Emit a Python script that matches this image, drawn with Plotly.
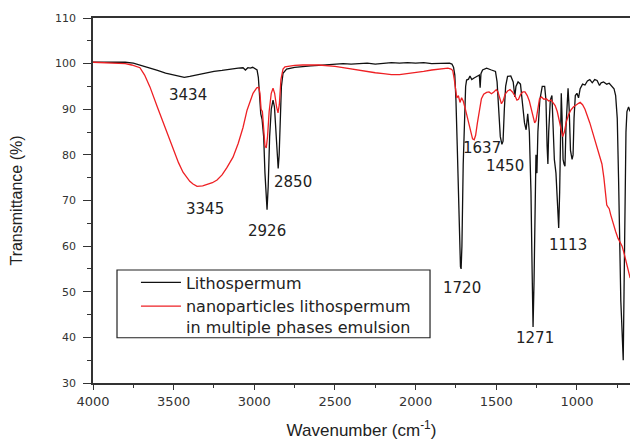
import plotly.graph_objects as go

# ---- data ----
black_wn = [4000, 3900, 3800, 3750, 3700, 3650, 3600, 3550, 3500, 3460, 3434, 3400, 3350, 3300, 3250,
            3200, 3150, 3100, 3070, 3055, 3040, 3025, 3010, 2995, 2983, 2975, 2968, 2960, 2952, 2942,
            2934, 2926, 2921, 2914, 2905, 2895, 2884, 2875, 2866, 2858, 2852, 2846, 2840, 2832, 2822,
            2800, 2750, 2700, 2650, 2600, 2550, 2500, 2450, 2400, 2350, 2300, 2250, 2200, 2150, 2100,
            2050, 2000, 1950, 1900, 1850, 1800, 1790, 1775, 1765, 1757, 1750, 1742, 1735, 1728, 1722,
            1718, 1713, 1705, 1697, 1690, 1684, 1672, 1663, 1652, 1640, 1620, 1605, 1600, 1595, 1585,
            1560, 1530, 1505, 1495, 1485, 1475, 1465, 1458, 1450, 1442, 1430, 1410, 1395, 1385, 1378,
            1365, 1350, 1338, 1325, 1315, 1305, 1295, 1285, 1278, 1272, 1266, 1260, 1254, 1248, 1242,
            1230, 1215, 1200, 1192, 1185, 1180, 1175, 1165, 1155, 1148, 1140, 1130, 1120, 1113, 1107,
            1102, 1097, 1092, 1086, 1080, 1074, 1068, 1060, 1055, 1048, 1040, 1030, 1024, 1018, 1010,
            1000, 990, 980, 965, 950, 935, 920, 905, 890, 875, 860, 850, 835, 815, 800,
            785, 770, 760, 750, 742, 735, 728, 722, 717, 713, 708, 702, 696, 690, 680,
            670]
black_t = [100.3, 100.3, 100.3, 100.1, 99.6, 99.0, 98.5, 97.9, 97.5, 97.2, 97.0, 97.2, 97.6, 97.9, 98.3,
           98.5, 98.8, 99.0, 99.1, 98.6, 99.1, 99.0, 99.2, 98.8, 98.6, 97.0, 93.0, 89.0, 87.8, 84.0,
           76.0, 69.0, 68.0, 73.0, 84.0, 90.0, 92.0, 90.5, 86.0, 80.0, 77.0, 80.0, 88.0, 95.0, 97.9,
           98.8, 99.2, 99.4, 99.5, 99.6, 99.7, 99.9, 100.0, 99.9, 100.0, 100.1, 99.9, 100.0, 100.2, 100.1,
           100.2, 100.1, 100.2, 100.0, 100.1, 100.2, 100.1, 99.9, 99.2, 97.5, 92.0, 82.0, 70.0, 60.0, 55.5,
           55.0, 60.0, 78.0, 90.0, 95.0, 96.4, 96.6, 97.3, 96.5, 96.8, 97.2, 97.5, 94.7, 97.8, 98.6,
           99.0, 98.6, 98.3, 96.0, 90.0, 84.0, 82.3, 83.0, 90.0, 95.0, 97.2, 97.3, 96.0, 92.7, 95.0,
           96.0, 95.5, 92.0, 87.0, 85.5, 89.0, 85.0, 72.0, 55.0, 42.3, 52.0, 68.0, 80.0, 76.0, 85.0,
           92.0, 95.0, 95.0, 92.0, 82.0, 78.0, 85.0, 92.0, 93.0, 88.0, 79.0, 76.0, 68.0, 64.0, 72.0,
           88.0, 93.5, 88.0, 79.0, 78.0, 77.5, 86.0, 93.5, 94.6, 90.0, 81.0, 79.0, 80.0, 88.0, 93.0,
           93.5, 92.5, 94.5, 95.5, 95.3, 96.2, 96.5, 95.8, 96.5, 96.3, 95.2, 95.8, 96.0, 95.5, 95.7,
           95.0, 94.5, 93.0, 88.0, 75.0, 60.0, 48.0, 43.0, 36.0, 35.0, 50.0, 70.0, 85.0, 89.5, 90.5,
           89.5]

red_wn = [4000, 3900, 3850, 3800, 3760, 3730, 3709, 3680, 3647, 3600, 3541, 3500, 3470, 3442, 3420,
          3400, 3380, 3355, 3320, 3290, 3260, 3231, 3200, 3170, 3132, 3100, 3070, 3045, 3008, 2985,
          2972, 2965, 2958, 2950, 2942, 2934, 2926, 2918, 2908, 2895, 2884, 2874, 2862, 2853, 2845,
          2835, 2822, 2810, 2750, 2700, 2600, 2550, 2500, 2450, 2400, 2350, 2300, 2250, 2200, 2150,
          2100, 2050, 2000, 1950, 1900, 1850, 1800, 1780, 1770, 1760, 1752, 1745, 1735, 1725, 1715,
          1705, 1695, 1682, 1670, 1658, 1647, 1637, 1628, 1617, 1605, 1592, 1578, 1560, 1545, 1530,
          1515, 1500, 1490, 1480, 1468, 1458, 1445, 1430, 1415, 1400, 1385, 1372, 1362, 1350, 1335,
          1322, 1308, 1295, 1282, 1270, 1262, 1254, 1244, 1232, 1220, 1205, 1190, 1175, 1160, 1148,
          1135, 1122, 1110, 1098, 1088, 1078, 1066, 1052, 1038, 1022, 1005, 990, 980, 965, 950,
          935, 920, 905, 890, 875, 860, 845, 833, 822, 815, 808, 800, 790, 775, 760,
          745, 730, 720, 706, 692, 680, 670]
red_t = [100.3, 100.2, 100.2, 100.0, 99.7, 99.4, 99.1, 97.5, 94.9, 90.4, 84.8, 81.0, 78.3, 76.2, 75.0,
         74.2, 73.6, 73.1, 73.2, 73.5, 73.9, 74.5, 75.6, 77.2, 79.5, 82.5, 86.0, 89.8, 93.5, 94.7,
         94.8, 93.5, 90.0, 89.5, 86.5, 82.0, 81.5, 84.0, 89.5, 93.5, 94.6, 93.5, 90.5, 89.2, 91.0,
         96.5, 98.8, 99.3, 99.6, 99.7, 99.7, 99.6, 99.4, 99.1, 98.8, 98.5, 98.3, 98.0, 97.8, 97.6,
         97.6, 97.8, 98.0, 98.3, 98.6, 98.8, 99.0, 98.8, 98.5, 96.5, 93.5, 92.5, 93.0, 91.5, 92.5,
         91.8, 90.5, 88.5, 86.5, 84.5, 83.5, 83.3, 84.3, 87.0, 90.0, 92.3, 93.3, 93.7, 93.8, 93.4,
         93.8, 94.3, 93.8, 92.3, 91.2, 91.8, 93.3, 94.0, 94.3, 93.8, 93.0, 92.0, 92.2, 93.2, 93.8,
         93.8, 93.0, 91.8, 89.8, 87.8, 87.0, 87.5, 90.0, 92.3, 92.7, 92.2, 92.3, 91.8, 92.0, 91.5,
         90.8, 89.5, 87.5, 85.2, 84.0, 85.0, 87.2, 88.8, 89.8, 90.5, 91.0, 91.3, 91.5, 91.0, 90.0,
         88.6, 87.0, 85.2, 83.3, 81.3, 79.6, 78.0, 75.0, 71.5, 69.0, 68.6, 68.2, 66.8, 64.8, 63.2,
         61.7, 60.6, 60.0, 58.2, 56.2, 54.6, 53.0]

series_names = ["Lithospermum", "nanoparticles lithospermum<br>in multiple phases emulsion"]

peak_labels = ["3434", "3345", "2926", "2850", "1720", "1637", "1450", "1271", "1113"]
label_wn = [3411, 3306, 2922, 2760, 1713, 1589, 1446, 1260, 1056]
label_t = [93.1, 68.1, 63.3, 74.1, 50.8, 81.5, 77.6, 39.9, 60.2]

x_tick_vals = [4000, 3500, 3000, 2500, 2000, 1500, 1000]
y_tick_vals = [30, 40, 50, 60, 70, 80, 90, 100, 110]

fig = go.Figure()
fig.add_trace(go.Scatter(x=black_wn, y=black_t, mode="lines", name=series_names[0],
                         line=dict(color="#111111", width=1.3)))
fig.add_trace(go.Scatter(x=red_wn, y=red_t, mode="lines", name=series_names[1],
                         line=dict(color="#ee2024", width=1.3)))

for txt, wx, ty in zip(peak_labels, label_wn, label_t):
    fig.add_annotation(x=wx, y=ty, text=txt, showarrow=False,
                       font=dict(family="DejaVu Sans", size=15, color="#222222"))

# legend frame
fig.add_shape(type="rect", xref="paper", yref="paper",
              x0=0.0447, x1=0.6276, y0=0.124, y1=0.3096,
              line=dict(color="#222222", width=1.2), fillcolor="white", layer="below")

axis_col = "#333333"
fig.update_layout(
    width=630, height=440,
    margin=dict(l=93, r=0, t=18, b=57),
    plot_bgcolor="white", paper_bgcolor="white",
    showlegend=True,
    legend=dict(x=0.080, y=0.322, xanchor="left", yanchor="top",
                borderwidth=0, bgcolor="rgba(0,0,0,0)",
                valign="top", tracegroupgap=2, itemwidth=40,
                font=dict(family="DejaVu Sans", size=16, color="#222222")),
    xaxis=dict(range=[4000, 671], tickvals=x_tick_vals, showgrid=False, zeroline=False,
               showline=True, linecolor=axis_col, linewidth=1.5, mirror=True,
               ticks="outside", ticklen=5, tickcolor=axis_col, tickwidth=1.2,
               ticklabelstandoff=1,
               minor=dict(dtick=250, ticks="outside", ticklen=3, tickcolor=axis_col),
               tickfont=dict(family="DejaVu Sans", size=13, color="#333333"),
               title=dict(text="Wavenumber (cm<sup>-1</sup>)", standoff=17,
                          font=dict(family="Liberation Sans", size=17, color="#222222"))),
    yaxis=dict(range=[30, 110], tickvals=y_tick_vals, showgrid=False, zeroline=False,
               showline=True, linecolor=axis_col, linewidth=1.5,
               ticks="outside", ticklen=8, tickcolor=axis_col, tickwidth=1.2,
               ticklabelstandoff=5,
               minor=dict(dtick=5, ticks="outside", ticklen=4, tickcolor=axis_col),
               tickfont=dict(family="DejaVu Sans", size=11, color="#333333"),
               title=dict(text="Transmittance (%)", standoff=28,
                          font=dict(family="Liberation Sans", size=16, color="#222222"))),
)

fig.write_html("out.html")
